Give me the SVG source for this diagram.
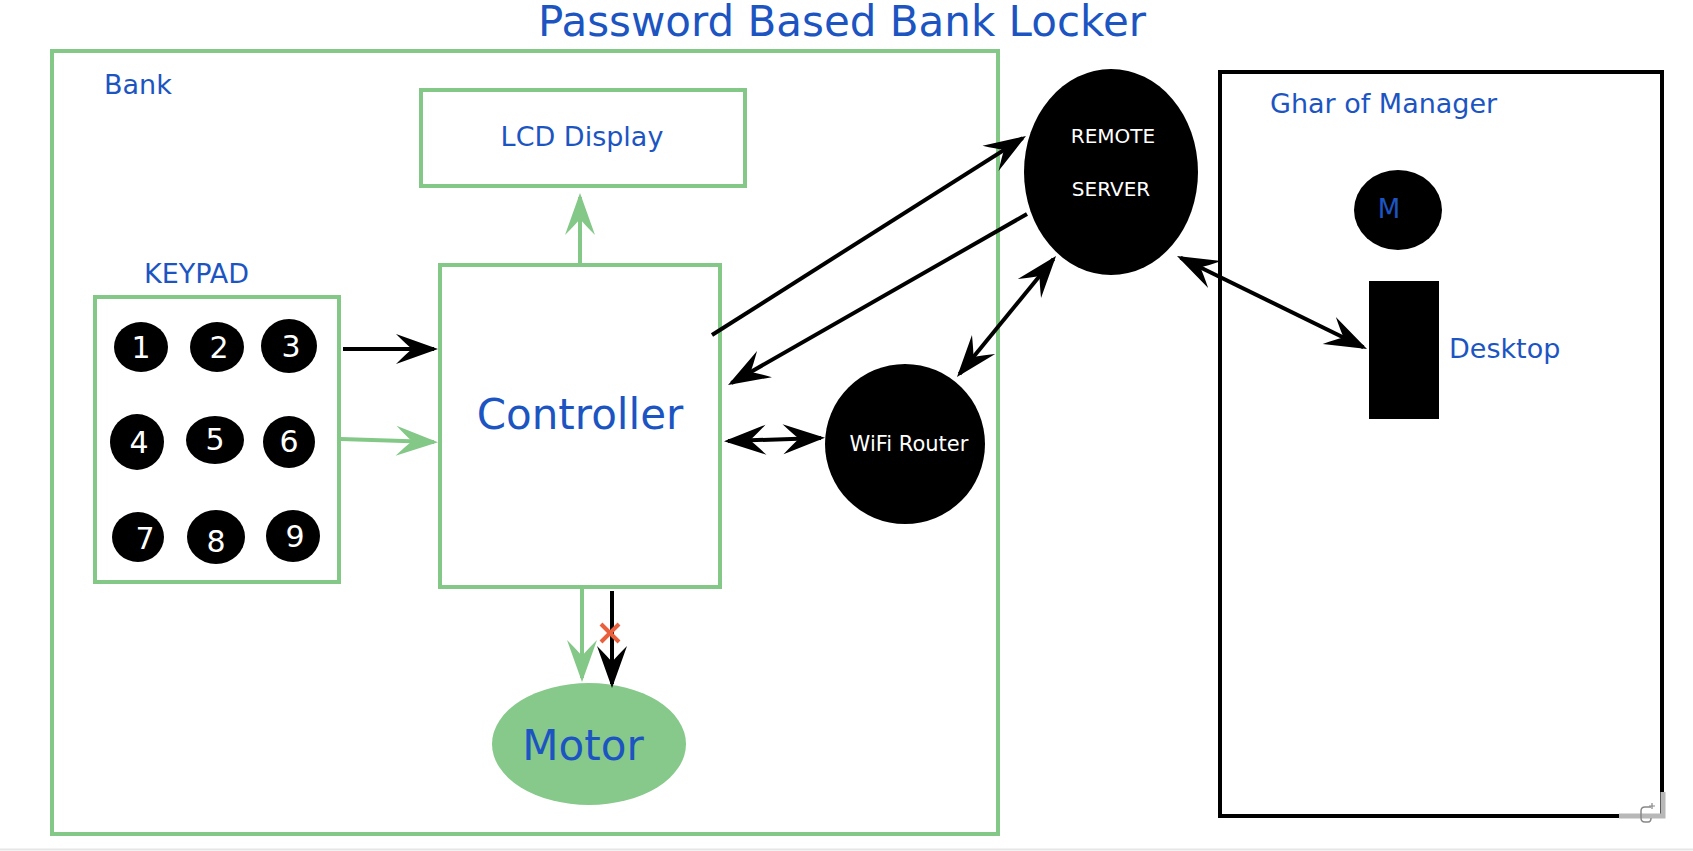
<svg xmlns="http://www.w3.org/2000/svg" width="1693" height="851" viewBox="0 0 1693 851">
<style>
  .lbl { font-family: "DejaVu Sans", Verdana, sans-serif; fill: #1c55c2; }
  .wht { font-family: "DejaVu Sans", Verdana, sans-serif; fill: #ffffff; }
  .gbox { fill: #ffffff; stroke: #84c887; stroke-width: 4; }
  .blk { stroke: #000000; stroke-width: 4; fill: none; }
  .grn { stroke: #84c887; stroke-width: 4; fill: none; }
</style>
<defs>
  <marker id="ab" markerUnits="userSpaceOnUse" markerWidth="48" markerHeight="36" refX="40" refY="16" orient="auto-start-reverse" viewBox="0 0 48 36">
    <path d="M44,16 L2,1 Q12,11 18,16 Q12,21 2,31 Z" fill="#000"/>
  </marker>
  <marker id="ag" markerUnits="userSpaceOnUse" markerWidth="48" markerHeight="36" refX="40" refY="16" orient="auto-start-reverse" viewBox="0 0 48 36">
    <path d="M44,16 L2,1 Q12,11 18,16 Q12,21 2,31 Z" fill="#84c887"/>
  </marker>
</defs>
<rect x="0" y="0" width="1693" height="851" fill="#ffffff"/>

<text id="title" class="lbl" x="842" y="36" font-size="42" text-anchor="middle">Password Based Bank Locker</text>

<g id="bank">
  <rect class="gbox" x="52" y="51" width="946" height="783"/>
  <text class="lbl" x="104" y="94" font-size="27">Bank</text>
</g>

<g id="ghar">
  <rect x="1220" y="72" width="442" height="744" fill="#ffffff" stroke="#000" stroke-width="4"/>
  <text class="lbl" x="1270" y="113" font-size="27">Ghar of Manager</text>
</g>

<g id="lcd">
  <rect class="gbox" x="421" y="90" width="324" height="96"/>
  <text class="lbl" x="582" y="146" font-size="27" text-anchor="middle">LCD Display</text>
</g>

<g id="keypad">
  <text class="lbl" x="144" y="283" font-size="27">KEYPAD</text>
  <rect class="gbox" x="95" y="297" width="244" height="285"/>
  <g font-size="30" text-anchor="middle">
    <ellipse cx="141" cy="347" rx="27" ry="25"/><text class="wht" x="141" y="358">1</text>
    <ellipse cx="217" cy="347" rx="27" ry="25"/><text class="wht" x="219" y="358">2</text>
    <ellipse cx="289" cy="346" rx="28" ry="27"/><text class="wht" x="291" y="357">3</text>
    <ellipse cx="137" cy="442" rx="27" ry="28"/><text class="wht" x="139" y="453">4</text>
    <ellipse cx="215" cy="440" rx="29" ry="24"/><text class="wht" x="215" y="450">5</text>
    <ellipse cx="289" cy="442" rx="26" ry="26"/><text class="wht" x="289" y="452">6</text>
    <ellipse cx="138" cy="537" rx="26" ry="25"/><text class="wht" x="145" y="549">7</text>
    <ellipse cx="216" cy="537" rx="29" ry="27"/><text class="wht" x="216" y="552">8</text>
    <ellipse cx="293" cy="536" rx="27" ry="26"/><text class="wht" x="295" y="547">9</text>
  </g>
</g>

<g id="controller">
  <rect class="gbox" x="440" y="265" width="280" height="322"/>
  <text class="lbl" x="580" y="429" font-size="42" text-anchor="middle">Controller</text>
</g>

<g id="motor">
  <ellipse cx="589" cy="744" rx="97" ry="61" fill="#86c98a"/>
  <text class="lbl" x="583" y="760" font-size="42" text-anchor="middle">Motor</text>
</g>

<g id="server">
  <ellipse cx="1111" cy="172" rx="87" ry="103" fill="#000"/>
  <text class="wht" x="1113" y="143" font-size="20" text-anchor="middle">REMOTE</text>
  <text class="wht" x="1111" y="196" font-size="20" text-anchor="middle">SERVER</text>
</g>

<g id="wifi">
  <circle cx="905" cy="444" r="80" fill="#000"/>
  <text class="wht" x="909" y="451" font-size="21" text-anchor="middle">WiFi Router</text>
</g>

<g id="manager">
  <ellipse cx="1398" cy="210" rx="44" ry="40" fill="#000"/>
  <text class="lbl" x="1389" y="218" font-size="26" text-anchor="middle">M</text>
</g>

<g id="desktop">
  <rect x="1369" y="281" width="70" height="138" fill="#000"/>
  <text class="lbl" x="1449" y="358" font-size="27">Desktop</text>
</g>

<g id="connectors">
  <line class="blk" x1="343" y1="349" x2="434" y2="349" marker-end="url(#ab)"/>
  <line class="grn" x1="341" y1="439" x2="434" y2="442" marker-end="url(#ag)"/>
  <line class="grn" x1="580" y1="263" x2="580" y2="197" marker-end="url(#ag)"/>
  <line class="grn" x1="582" y1="589" x2="582" y2="678" marker-end="url(#ag)"/>
  <line class="blk" x1="612" y1="591" x2="612" y2="684" marker-end="url(#ab)"/>
  <g stroke="#e8603c" stroke-width="4">
    <line x1="601" y1="624" x2="619" y2="642"/>
    <line x1="619" y1="624" x2="601" y2="642"/>
  </g>
  <line class="blk" x1="712" y1="335" x2="1022.6" y2="138.1" marker-end="url(#ab)"/>
  <line class="blk" x1="1027" y1="214" x2="731.5" y2="383" marker-end="url(#ab)"/>
  <line class="blk" x1="959.5" y1="373.9" x2="1053.5" y2="259.1" marker-start="url(#ab)" marker-end="url(#ab)"/>
  <line class="blk" x1="728" y1="441" x2="821" y2="438" marker-start="url(#ab)" marker-end="url(#ab)"/>
  <line class="blk" x1="1180.6" y1="257.8" x2="1363.4" y2="347.2" marker-start="url(#ab)" marker-end="url(#ab)"/>
</g>

<g id="corner-handle">
  <path d="M1619,816 L1663,816 L1663,792" fill="none" stroke="#b8b8b8" stroke-width="5"/>
  <path d="M1651,807 L1645,807 Q1641,807 1641,811 L1641,818 Q1641,822 1645,822 L1648,822 Q1651,822 1651,818" fill="none" stroke="#888" stroke-width="1.5"/>
  <path d="M1652,803 L1652,809 M1649,806 L1655,806" stroke="#888" stroke-width="1.2"/>
</g>
<line x1="0" y1="849.5" x2="1693" y2="849.5" stroke="#e6e6e6" stroke-width="2"/>
</svg>
